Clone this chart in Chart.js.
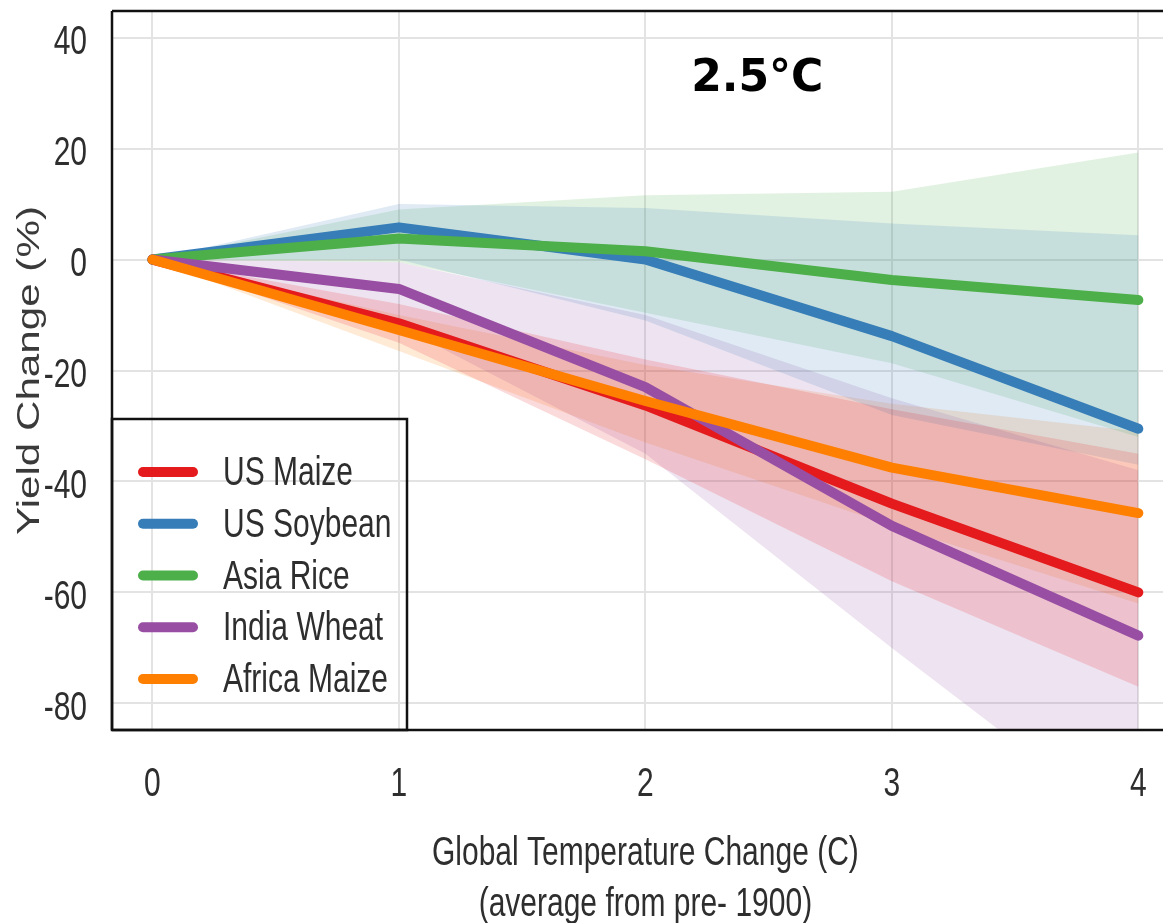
<!DOCTYPE html>
<html>
<head>
<meta charset="utf-8">
<script src="https://cdn.jsdelivr.net/npm/chart.js@4.4.1/dist/chart.umd.min.js"></script>
<style>
  html, body { margin: 0; padding: 0; background: #fff; }
  #wrap { width: 1163px; height: 923px; position: relative; }
  canvas { display: block; }
</style>
</head>
<body>
<div id="wrap"><canvas id="chart" width="1163" height="923"></canvas></div>
<script>
// Warming levels (°C above pre-1900 average)
const temps = [0, 1, 2, 3, 4];
const xTickValues = [0, 1, 2, 3, 4];
const yTickValues = [-80, -60, -40, -20, 0, 20, 40];

// Central yield change estimates (%)
const usMaize     = [0, -11.5, -26.3, -44.0, -60.0];
const usSoybean   = [0,   5.8,   0.0, -13.8, -30.5];
const asiaRice    = [0,   3.8,   1.5,  -3.7,  -7.3];
const indiaWheat  = [0,  -5.3, -23.0, -48.0, -67.8];
const africaMaize = [0, -12.7, -25.5, -37.5, -45.7];

// Uncertainty ranges (%)
const usMaizeHigh     = [0,  -8.0, -18.0, -27.0, -35.0];
const usMaizeLow      = [0, -15.0, -36.0, -58.0, -77.0];
const usSoybeanHigh   = [0,  10.0,   9.3,   6.5,   4.4];
const usSoybeanLow    = [0,   0.0, -11.0, -28.0, -37.0];
const asiaRiceHigh    = [0,   9.0,  11.6,  12.2,  19.3];
const asiaRiceLow     = [0,  -0.5,  -9.6, -18.7, -32.0];
const indiaWheatHigh  = [0,  -0.5, -10.0, -25.0, -38.0];
const indiaWheatLow   = [0, -12.0, -35.0, -70.0, -104.0];
const africaMaizeHigh = [0, -10.0, -19.0, -26.0, -31.0];
const africaMaizeLow  = [0, -16.5, -33.0, -48.0, -62.0];

const seriesNames = ['US Maize', 'US Soybean', 'Asia Rice', 'India Wheat', 'Africa Maize'];
const seriesColors = ['#e41a1c', '#377eb8', '#4daf4a', '#984ea3', '#ff7f00'];
const seriesValues = [usMaize, usSoybean, asiaRice, indiaWheat, africaMaize];
const seriesHigh = [usMaizeHigh, usSoybeanHigh, asiaRiceHigh, indiaWheatHigh, africaMaizeHigh];
const seriesLow = [usMaizeLow, usSoybeanLow, asiaRiceLow, indiaWheatLow, africaMaizeLow];

const xTitleLines = ['Global Temperature Change (C)', '(average from pre- 1900)'];
const yTitle = 'Yield Change (%)';
const annotationText = '2.5°C';
const annotationAt = { x: 2.454, y: 32.4 };

const SANS = "'Liberation Sans', Arial, sans-serif";
const TEXT = '#2e2e2e';
const STRETCH = 1.36;   // tall, narrow lettering

function pts(arr) { return temps.map((t, i) => ({ x: t, y: arr[i] })); }
function rgba(hex, a) {
  const n = parseInt(hex.slice(1), 16);
  return `rgba(${(n >> 16) & 255},${(n >> 8) & 255},${n & 255},${a})`;
}
function tallText(ctx, text, x, y, align) {
  ctx.save();
  ctx.translate(x, y);
  ctx.scale(1, STRETCH);
  ctx.textAlign = align;
  ctx.textBaseline = 'middle';
  ctx.fillText(text, 0, 0);
  ctx.restore();
}

const datasets = [];
// shaded ranges: upper bound filled down to the following lower bound
seriesNames.forEach((name, i) => {
  datasets.push({
    label: name + ' range high', data: pts(seriesHigh[i]), isBand: true,
    borderWidth: 0, pointRadius: 0, fill: '+1',
    backgroundColor: rgba(seriesColors[i], 0.16), order: 20 + i
  });
  datasets.push({
    label: name + ' range low', data: pts(seriesLow[i]), isBand: true,
    borderWidth: 0, pointRadius: 0, fill: false, order: 20 + i
  });
});
// central lines, later series drawn on top
seriesNames.forEach((name, i) => {
  datasets.push({
    label: name, data: pts(seriesValues[i]), isBand: false,
    borderColor: seriesColors[i], backgroundColor: seriesColors[i],
    borderWidth: 10, pointRadius: 0, fill: false, tension: 0,
    borderCapStyle: 'round', borderJoinStyle: 'round',
    order: 10 - i
  });
});

const decorations = {
  id: 'decorations',
  afterDraw(chart) {
    const { ctx, chartArea: a, scales } = chart;
    const sx = scales.x, sy = scales.y;
    ctx.save();

    // frame: top, left and bottom edges
    ctx.strokeStyle = '#111';
    ctx.lineWidth = 2.5;
    ctx.beginPath();
    ctx.moveTo(a.left, a.top); ctx.lineTo(a.right, a.top);
    ctx.moveTo(a.left, a.top); ctx.lineTo(a.left, a.bottom);
    ctx.moveTo(a.left, a.bottom); ctx.lineTo(a.right, a.bottom);
    ctx.stroke();

    // tick labels
    ctx.fillStyle = TEXT;
    ctx.font = `30px ${SANS}`;
    sy.ticks.forEach(t => {
      tallText(ctx, String(t.value), a.left - 25, sy.getPixelForValue(t.value) + 5, 'right');
    });
    sx.ticks.forEach(t => {
      tallText(ctx, String(t.value), sx.getPixelForValue(t.value), a.bottom + 55, 'center');
    });

    // x-axis title (two lines)
    const midX = (sx.getPixelForValue(0) + sx.getPixelForValue(4)) / 2;
    tallText(ctx, xTitleLines[0], midX, a.bottom + 124, 'center');
    tallText(ctx, xTitleLines[1], midX, a.bottom + 175, 'center');

    // legend box in the lower-left corner
    const boxW = 295, boxH = 311;
    const bx = a.left, by = a.bottom - boxH;
    ctx.strokeStyle = '#111';
    ctx.lineWidth = 2.5;
    ctx.strokeRect(bx, by, boxW, boxH);
    const lines = chart.data.datasets.filter(d => !d.isBand);
    lines.forEach((d, i) => {
      const cy = by + 53 + i * 51.75;
      ctx.strokeStyle = d.borderColor;
      ctx.lineWidth = 10;
      ctx.lineCap = 'round';
      ctx.beginPath();
      ctx.moveTo(bx + 31, cy); ctx.lineTo(bx + 81, cy);
      ctx.stroke();
      ctx.fillStyle = TEXT;
      tallText(ctx, d.label, bx + 111, cy + 2, 'left');
    });

    // y-axis title, stretched along its length
    ctx.fillStyle = '#3a3a3a';
    ctx.font = `31px ${SANS}`;
    ctx.textAlign = 'center';
    ctx.textBaseline = 'middle';
    ctx.translate(30, (a.top + a.bottom) / 2);
    ctx.rotate(-Math.PI / 2);
    ctx.scale(STRETCH, 1);
    ctx.fillText(yTitle, 0, 0);
    ctx.restore();

    // warming level label
    ctx.save();
    ctx.fillStyle = '#000';
    ctx.font = `bold 44px 'DejaVu Sans', Verdana, sans-serif`;
    ctx.textAlign = 'center';
    ctx.textBaseline = 'middle';
    ctx.fillText(annotationText, sx.getPixelForValue(annotationAt.x), sy.getPixelForValue(annotationAt.y));
    ctx.restore();
  }
};

new Chart(document.getElementById('chart').getContext('2d'), {
  type: 'line',
  data: { datasets },
  plugins: [decorations],
  options: {
    responsive: false,
    animation: false,
    layout: { padding: { top: 11, right: 0, bottom: 0, left: 0 } },
    plugins: {
      legend: { display: false },
      tooltip: { enabled: false },
      filler: { drawTime: 'beforeDatasetsDraw', propagate: false }
    },
    scales: {
      x: {
        type: 'linear', min: -0.164, max: 4.1,
        afterBuildTicks: s => { s.ticks = xTickValues.map(v => ({ value: v })); },
        afterFit: s => { s.height = 193; },
        grid: { color: '#e3e3e3', lineWidth: 2, drawTicks: false },
        border: { display: false },
        ticks: { display: false },
        title: { display: false }
      },
      y: {
        type: 'linear', min: -84.8, max: 44.8,
        afterBuildTicks: s => { s.ticks = yTickValues.map(v => ({ value: v })); },
        afterFit: s => { s.width = 112; },
        grid: { color: '#e3e3e3', lineWidth: 2, drawTicks: false },
        border: { display: false },
        ticks: { display: false },
        title: { display: false }
      }
    }
  }
});
</script>
</body>
</html>
